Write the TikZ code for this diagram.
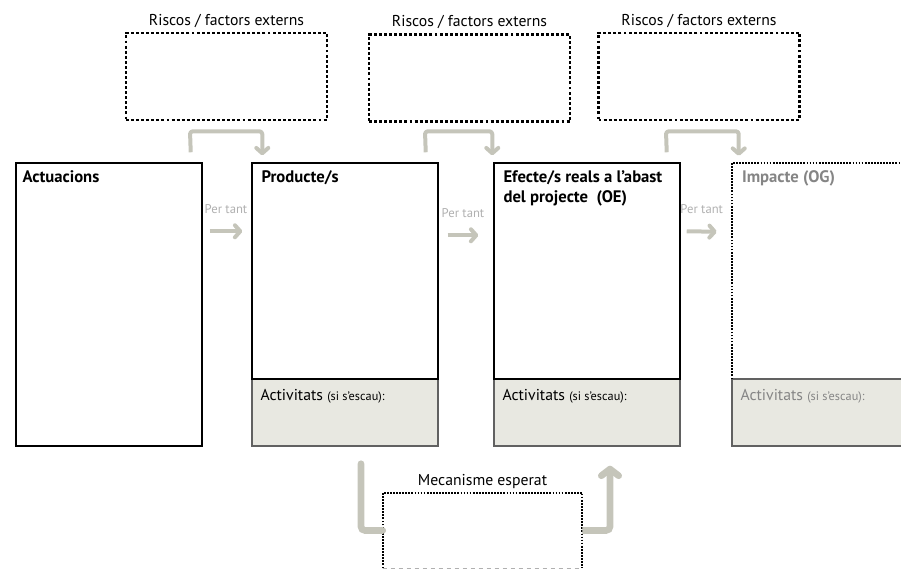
\documentclass[tikz,border=0pt]{standalone}
\usepackage{fontspec}
\setmainfont{PT Sans}
\usetikzlibrary{arrows.meta,calc}
\definecolor{grisfletxa}{HTML}{C5C5BA}
\definecolor{grisfons}{HTML}{E8E8E1}
\definecolor{grislinia}{HTML}{616161}
\definecolor{gristext}{HTML}{858585}
\definecolor{grisclar}{HTML}{B0B0B0}
\newcommand{\px}{0.75pt}
\tikzset{
>={Straight Barb[round,length=4pt,width=9pt]},
caixa/.style={rectangle,draw,line width=1.1pt,minimum width=186*\px,inner sep=0pt},
activ/.style={rectangle,draw=grislinia,fill=grisfons,line width=1.1pt,minimum width=186*\px,minimum height=67*\px,inner sep=0pt},
risc/.style={rectangle,draw,line width=2pt,dash pattern=on 2.2pt off 1.6pt,minimum width=201*\px,minimum height=87*\px,inner sep=0pt},
puntejat/.style={line width=1.2pt,dash pattern=on 1.3pt off 1pt},
titol/.style={anchor=north west,inner sep=0pt,font=\fontsize{12.5}{15}\selectfont\bfseries},
fletxa/.style={->,draw=grisfletxa,line width=3pt,line join=round},
fletxa gran/.style={draw=grisfletxa,line width=5pt,line cap=round,rounded corners=3pt},
pertant/.style={font=\fontsize{9.5}{11}\selectfont,text=grisclar,inner sep=0pt}}

\begin{document}
\begin{tikzpicture}[x=\px,y=-\px,font=\fontsize{11.8}{14}\selectfont]
\useasboundingbox (0,0) rectangle (901,569);

% riscos
\node[risc] (r1) at (226.5,76.5) {};
\node[risc] (r2) at (469.5,78) {};
\node[risc] (r3) at (699,76.5) {};
\foreach \r in {r1,r2,r3}
  \node[above=3pt,inner sep=0pt] at (\r.north) {Riscos / factors externs};

% caixes principals
\node[caixa,minimum height=283*\px] (act) at (109,304.5) {};
\node[activ] (prodact) at (345,412.5) {};
\node[caixa,minimum height=216*\px] (prod) at (345,271) {};
\node[activ] (effact) at (587,412.5) {};
\node[caixa,minimum height=216*\px] (eff) at (587,271) {};
\node[activ] (impact) at (825,412.5) {};
\node[minimum width=186*\px,minimum height=216*\px,inner sep=0pt] (imp) at (825,271) {};
\draw[puntejat] (imp.south west) |- (imp.north east);

\node[titol] at ($(act.north west)+(7,8)$) {Actuacions};
\node[titol] at ($(prod.north west)+(10,8)$) {Producte/s};
\node[titol,align=left] at ($(eff.north west)+(10,8)$) {Efecte/s reals a l’abast\\del projecte\ \ (OE)};
\node[titol,text=gristext] at ($(imp.north west)+(10,8)$) {Impacte (OG)};

\foreach \a/\c in {prodact/black,effact/black,impact/gristext}
  \node[anchor=north west,inner sep=0pt,text=\c] at ($(\a.north west)+(9,11)$)
    {Activitats {\fontsize{9.2}{11}\selectfont(si s’escau):}};

% per tant
\draw[fletxa] ($(act.north east)+(7,69)$) -- node[pertant,above=12pt] {Per tant} ($(prod.north west)+(-9,69)$);
\draw[fletxa] ($(prod.north east)+(9,73)$) -- node[pertant,above=12pt] {Per tant} ($(eff.north west)+(-15,73)$);
\draw[fletxa] ($(eff.north east)+(6,69)$) -- node[pertant,above=12pt] {Per tant} ($(imp.north west)+(-15,69)$);

% fletxes dels riscos
\draw[fletxa,rounded corners=2pt] ($(act.north east)+(-12,-10)$) -- ($(r1.south)+(-36.5,10)$) -| ($(prod.north west)+(11,-7)$);
\draw[fletxa,rounded corners=2pt] ($(prod.north east)+(-13,-10)$) -- ($(r2.south)+(-44.5,8.5)$) -| ($(eff.north west)+(-1,-7)$);
\draw[fletxa,rounded corners=2pt] ($(eff.north east)+(-14,-10)$) -- ($(r3.south)+(-33,10)$) -| ($(imp.north west)+(7,-7)$);

% mecanisme
\node[minimum width=199*\px,minimum height=75*\px,inner sep=0pt] (mec) at (482.5,530.5) {};
\draw[puntejat] (mec.south west) |- (mec.north east) -- (mec.south east);
\draw[grisclar,dashed,line width=0.6pt] (mec.south west) -- (mec.south east);
\node[above=3pt,inner sep=0pt] at (mec.north) {Mecanisme esperat};

\draw[fletxa gran] ($(prod.south)+(16,84)$) |- (mec.west);
\draw[fletxa gran,line cap=butt,-{Straight Barb[round,length=5pt,width=13pt]}] (mec.east) -| ($(effact.south)+(23,19)$);

\end{tikzpicture}
\end{document}
